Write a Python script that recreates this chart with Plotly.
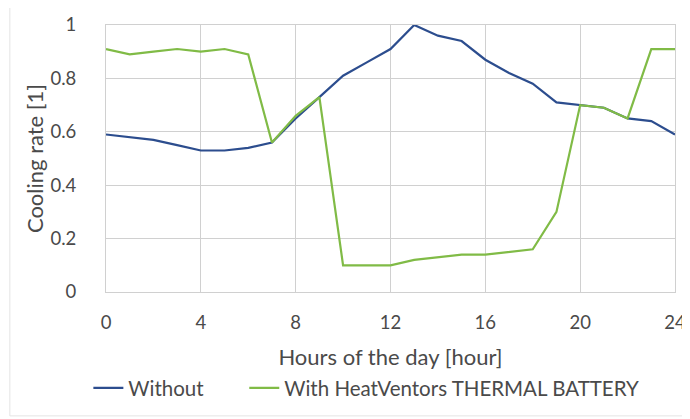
import plotly.graph_objects as go

HOURS = list(range(25))
WITHOUT = [0.59, 0.58, 0.57, 0.55, 0.53, 0.53, 0.54, 0.56, 0.65, 0.73,
           0.81, 0.86, 0.91, 1.00, 0.96, 0.94, 0.87, 0.82, 0.78, 0.71,
           0.70, 0.69, 0.65, 0.64, 0.59]
WITH_BATTERY = [0.91, 0.89, 0.90, 0.91, 0.90, 0.91, 0.89, 0.56, 0.66, 0.73,
                0.10, 0.10, 0.10, 0.12, 0.13, 0.14, 0.14, 0.15, 0.16, 0.30,
                0.70, 0.69, 0.65, 0.91, 0.91]
Y_TICKS = [0, 0.2, 0.4, 0.6, 0.8, 1]
Y_LABELS = ["0", "0.2", "0.4", "0.6", "0.8", "1"]

TEXT = "#4a4a4a"
GRID = "#d0d0d0"

# page body has an 8px margin, so the figure is sized to fit inside the window
fig = go.Figure()
fig.add_trace(go.Scatter(x=HOURS, y=WITHOUT, mode="lines", name="Without",
                         line={"color": "#2c4d8e", "width": 2.2},
                         legend="legend"))
fig.add_trace(go.Scatter(x=HOURS, y=WITH_BATTERY, mode="lines",
                         name="With HeatVentors THERMAL BATTERY",
                         line={"color": "#80bb46", "width": 2.2},
                         legend="legend2"))

legend_style = {"orientation": "h", "xanchor": "left", "yanchor": "middle",
                "y": -0.36, "font": {"size": 20.5}, "bgcolor": "rgba(0,0,0,0)"}

fig.update_layout(
    width=682, height=411,
    paper_bgcolor="white", plot_bgcolor="white",
    font={"family": "Lato, Open Sans, sans-serif", "size": 18, "color": TEXT},
    margin={"l": 98, "r": 15, "t": 17, "b": 127, "autoexpand": False},
    showlegend=True,
    legend={**legend_style, "x": -0.031},
    legend2={**legend_style, "x": 0.243},
    shapes=[{"type": "rect", "xref": "paper", "yref": "paper",
             "x0": -0.169, "x1": 1.021, "y0": -0.464, "y1": 1.08,
             "line": {"color": "#e4e4e4", "width": 1}}],
)
fig.update_xaxes(range=[0, 24], tickvals=[0, 4, 8, 12, 16, 20, 24],
                 showgrid=True, gridcolor=GRID, gridwidth=1,
                 showline=True, linecolor=GRID, mirror=True,
                 zeroline=False, ticks="", ticklabelstandoff=14,
                 tickfont={"size": 18.5}, automargin=False,
                 title={"text": "Hours of the day [hour]", "standoff": 17},
                 fixedrange=True)
fig.update_yaxes(range=[0, 1], tickvals=Y_TICKS, ticktext=Y_LABELS,
                 showgrid=True, gridcolor=GRID, gridwidth=1,
                 showline=True, linecolor=GRID, mirror=True,
                 zeroline=False, ticks="", ticklabelstandoff=25,
                 tickfont={"size": 18.5}, automargin=False,
                 title={"text": "Cooling rate [1]", "standoff": 0},
                 fixedrange=True)

fig.write_html("out.html")
